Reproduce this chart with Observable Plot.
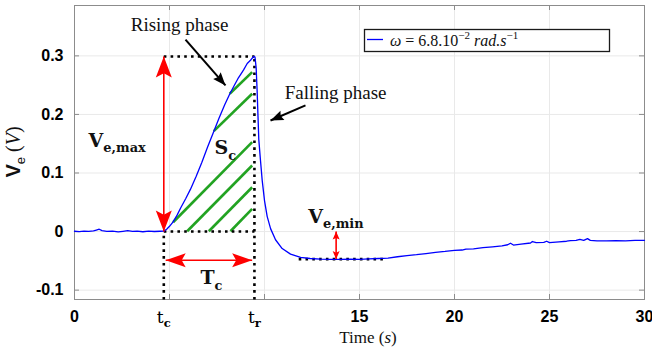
<!DOCTYPE html>
<html><head><meta charset="utf-8">
<script src="https://cdn.jsdelivr.net/npm/d3@7"></script>
<script src="https://cdn.jsdelivr.net/npm/@observablehq/plot@0.6"></script>
<style>body{margin:0;background:#fff;} #chart{width:652px;height:352px;}</style>
</head><body><div id="chart"></div>
<script>
// ---------- data ----------
const time = [0,0.25,0.5,0.75,1,1.15,1.3,1.45,1.7,2,2.3,2.55,2.8,3.05,3.3,3.6,3.9,4.2,4.5,4.7,
  4.85,5,5.19,5.4,5.6,5.85,6.1,6.4,6.7,7,7.33,7.6,7.9,8.17,8.4,8.6,8.74,8.9,9.09,9.25,9.35,9.44,9.5,
  9.56,9.61,9.66,9.7,9.79,9.88,10,10.14,10.32,10.58,10.93,11.37,11.9,12.4,12.95,13.5,14,14.5,15,
  15.5,16,16.5,17,17.5,18,18.5,19,19.5,20,20.4,20.6,21,21.5,22,22.5,22.8,22.95,23.1,23.5,24,24.1,24.3,
  24.7,24.85,25,25.5,25.9,26.1,26.4,26.6,26.8,27,27.15,27.5,28,28.5,29,29.5,30];
const voltage = [0.0005,0,0.0008,0.0002,0.001,0.0025,0.004,0.0015,0.0003,0.0008,-0.0005,0.0005,0.0015,0.0002,0.0008,-0.0003,0.0006,0.0001,0.0005,0.0008,
  0.004,0.009,0.0165,0.028,0.041,0.056,0.072,0.094,0.118,0.144,0.171,0.193,0.216,0.235,0.249,0.261,0.268,0.276,0.287,0.292,0.296,0.299,0.298,
  0.28,0.242,0.195,0.157,0.121,0.087,0.053,0.026,0.005,-0.014,-0.029,-0.0385,-0.044,-0.046,-0.047,-0.0475,-0.0475,-0.047,-0.0475,
  -0.0468,-0.046,-0.0455,-0.043,-0.041,-0.0395,-0.0375,-0.0355,-0.034,-0.032,-0.0315,-0.03,-0.0295,-0.0275,-0.026,-0.0245,-0.0225,-0.02,-0.023,-0.0215,-0.0195,-0.017,-0.019,
  -0.0185,-0.0165,-0.019,-0.0175,-0.0165,-0.0155,-0.015,-0.0135,-0.015,-0.012,-0.015,-0.016,-0.016,-0.0155,-0.0158,-0.0152,-0.015];

const tc = 4.7, tr = 9.47, vmax = 0.299, vmin = -0.047;
const tcArrowLevel = -0.049;       // level of the Tc double arrow
const vminArrowTime = 13.77;       // time of the Ve,min double arrow
const vminLine = [11.8, 16.3];     // extent of the dotted minimum line

const xTicks = [0, tc, tr, 15, 20, 25, 30];
const xTickLabels = ["0", "t_{c}", "t_{r}", "15", "20", "25", "30"];
const yTicks = [-0.1, 0, 0.1, 0.2, 0.3];
const yTickLabels = ["-0.1", "0", "0.1", "0.2", "0.3"];
const gridX = [5, 10, 15, 20, 25];
const gridY = [-0.1, 0, 0.1, 0.2, 0.3];

// green hatching of the area Sc
const hatchT1 = [8.21, 7.07, 5.93, 5.19, 7.33, 8.17];
const hatchV1 = [0.0005, 0.0005, 0.0005, 0.0159, 0.1715, 0.2354];
const hatchT2 = [9.35, 9.35, 9.35, 9.35, 9.35, 9.35];
const hatchV2 = [0.0388, 0.0757, 0.1128, 0.1526, 0.2354, 0.2723];

// annotation texts
const noteText = ["Rising phase", "Falling phase", "V_{e,max}", "S_{c}", "T_{c}", "V_{e,min}"];
const noteT = [5.53, 13.74, 0.74, 7.37, 6.63, 12.3];
const noteV = [0.3525, 0.2376, 0.1556, 0.142, -0.0795, 0.0256];
// black pointer arrows (start -> tip)
const pointerT1 = [5.842, 12.158], pointerV1 = [0.3277, 0.2154];
const pointerT2 = [7.947, 10.316], pointerV2 = [0.2496, 0.1897];

const legendLabel = ["ω", " = 6.8.10", "−2", " rad.s", "−1"];

// ---------- layout ----------
const W = 652, H = 352, ML = 74, MR = 8, MT = 5, MB = 53;
const xDomain = [0, 30], yDomain = [-0.116, 0.386];
const plotW = W - ML - MR, plotH = H - MT - MB;
const kx = plotW / (xDomain[1] - xDomain[0]);
const ky = plotH / (yDomain[1] - yDomain[0]);
const angle = (t1, v1, t2, v2) => Math.atan2((t2 - t1) * kx, (v2 - v1) * ky) * 180 / Math.PI;

function headShape(width, notch = 0.2) {
  return {draw(ctx, l) {
    const w = width / 2;
    ctx.moveTo(0, -l); ctx.lineTo(w, 0); ctx.lineTo(0, -l * notch); ctx.lineTo(-w, 0); ctx.closePath();
  }};
}

const curve = time.map((t, i) => ({t, v: voltage[i]}));
const hatch = hatchT1.map((t, i) => ({t1: t, v1: hatchV1[i], t2: hatchT2[i], v2: hatchV2[i]}));
const notes = noteText.map((s, i) => ({s, t: noteT[i], v: noteV[i]}));
const pointers = pointerT1.map((t, i) => ({t1: t, v1: pointerV1[i], t2: pointerT2[i], v2: pointerV2[i],
  r: angle(t, pointerV1[i], pointerT2[i], pointerV2[i])}));

const redShafts = [
  {t1: tc, v1: 0, t2: tc, v2: vmax},
  {t1: tc + 0.1, v1: tcArrowLevel, t2: tr - 0.12, v2: tcArrowLevel},
  {t1: vminArrowTime, v1: 0, t2: vminArrowTime, v2: vmin}
];
const bigHeads = [
  {t: tc, v: vmax, r: 0}, {t: tc, v: 0, r: 180}
];
const midHeads = [
  {t: tc + 0.1, v: tcArrowLevel, r: 270}, {t: tr - 0.12, v: tcArrowLevel, r: 90}
];
const smallHeads = [
  {t: vminArrowTime, v: 0, r: 0}, {t: vminArrowTime, v: vmin, r: 180}
];
const dotted = [
  {t1: tc, v1: vmax, t2: tr, v2: vmax},
  {t1: tc, v1: 0, t2: tr, v2: 0},
  {t1: tc, v1: yDomain[0], t2: tc, v2: 0},
  {t1: tr, v1: yDomain[0], t2: tr, v2: vmax},
  {t1: vminLine[0], v1: vmin, t2: vminLine[1], v2: vmin}
];

const xLabelMap = new Map(xTicks.map((d, i) => [d, xTickLabels[i]]));
const yLabelMap = new Map(yTicks.map((d, i) => [d, yTickLabels[i]]));

const serif = "Liberation Serif";
const boldSerif = "DejaVu Serif";

const plot = Plot.plot({
  width: W, height: H,
  marginLeft: ML, marginRight: MR, marginTop: MT, marginBottom: MB,
  style: {background: "white", overflow: "visible"},
  x: {domain: xDomain, axis: null},
  y: {domain: yDomain, axis: null},
  marks: [
    Plot.ruleX(gridX, {stroke: "#e9e9e9", strokeWidth: 1}),
    Plot.ruleY(gridY, {stroke: "#e9e9e9", strokeWidth: 1}),
    Plot.ruleX(gridX, {insetTop: plotH - 5, stroke: "#8c8c8c"}),
    Plot.ruleX(gridX, {insetBottom: plotH - 5, stroke: "#8c8c8c"}),
    Plot.ruleY(gridY, {insetRight: plotW - 5, stroke: "#8c8c8c"}),
    Plot.ruleY(gridY, {insetLeft: plotW - 5, stroke: "#8c8c8c"}),
    Plot.frame({stroke: "#8c8c8c", strokeWidth: 1}),
    Plot.axisX(xTicks, {tickFormat: d => xLabelMap.get(d), tickSize: 0, tickPadding: 11,
      fontSize: 16, fontWeight: "bold", fontFamily: "Liberation Sans", label: null}),
    Plot.axisY(yTicks, {tickFormat: d => yLabelMap.get(d), tickSize: 0, tickPadding: 11,
      fontSize: 16, fontWeight: "bold", fontFamily: "Liberation Sans", label: null}),
    Plot.link(hatch, {x1: "t1", y1: "v1", x2: "t2", y2: "v2", stroke: "#22a322", strokeWidth: 2.6}),
    Plot.link(dotted, {x1: "t1", y1: "v1", x2: "t2", y2: "v2", stroke: "black", strokeWidth: 2.6,
      strokeDasharray: "2.6,4.2", strokeLinecap: "butt"}),
    Plot.line(curve, {x: "t", y: "v", stroke: "#0000ff", strokeWidth: 1.3}),
    Plot.link(redShafts, {x1: "t1", y1: "v1", x2: "t2", y2: "v2", stroke: "red", strokeWidth: 1.6}),
    Plot.vector(bigHeads, {x: "t", y: "v", rotate: "r", length: 21, anchor: "end", shape: headShape(16), fill: "red", stroke: "none"}),
    Plot.vector(midHeads, {x: "t", y: "v", rotate: "r", length: 20, anchor: "end", shape: headShape(14), fill: "red", stroke: "none"}),
    Plot.vector(smallHeads, {x: "t", y: "v", rotate: "r", length: 8, anchor: "end", shape: headShape(7), fill: "red", stroke: "none"}),
    Plot.link(pointers, {x1: "t1", y1: "v1", x2: "t2", y2: "v2", stroke: "black", strokeWidth: 2}),
    Plot.vector(pointers, {x: "t2", y: "v2", rotate: "r", length: 13, anchor: "end", shape: headShape(10, 0.15), fill: "black", stroke: "none"}),
    Plot.text(notes.slice(0, 2), {x: "t", y: "v", text: "s", fontFamily: serif, fontSize: 19, fill: "#111", textAnchor: "middle"}),
    Plot.text(notes.slice(2), {x: "t", y: "v", text: "s", fontFamily: boldSerif, fontSize: 19, fontWeight: "bold", fill: "#111", textAnchor: "start"})
  ]
});
document.getElementById("chart").appendChild(plot);

// rich text (subscripts) for labels
const NS = "http://www.w3.org/2000/svg";
function richify(el, opts = {}) {
  const s = el.textContent;
  if (!/[_^]\{/.test(s)) return;
  const fs = opts.fontSize || parseFloat(getComputedStyle(el).fontSize) || 16;
  while (el.firstChild) el.removeChild(el.firstChild);
  const re = /([_^])\{([^}]*)\}/g;
  let last = 0, m, cur = 0;
  function add(txt, shift, small) {
    if (!txt) return;
    const t = document.createElementNS(NS, "tspan");
    t.textContent = txt;
    const d = shift - cur;
    if (d) t.setAttribute("dy", d);
    cur = shift;
    if (small) {
      t.setAttribute("font-size", fs * 0.68);
      if (opts.subWeight) t.setAttribute("font-weight", opts.subWeight);
    }
    el.appendChild(t);
  }
  while ((m = re.exec(s))) {
    add(s.slice(last, m.index), 0, false);
    add(m[2], m[1] === "_" ? fs * 0.28 : -fs * 0.4, true);
    last = re.lastIndex;
  }
  add(s.slice(last), 0, false);
}
plot.querySelectorAll("text").forEach(el => {
  const s = el.textContent;
  if (/^t_\{/.test(s)) {
    el.setAttribute("font-family", boldSerif);
    el.setAttribute("font-weight", "normal");
    el.setAttribute("font-size", 17);
    richify(el, {fontSize: 17, subWeight: "bold"});
  } else {
    richify(el);
  }
});

// axis titles and legend
const svg = d3.select(plot);
const yl = svg.append("text").attr("transform", "translate(20,152) rotate(-90)")
  .attr("text-anchor", "middle").attr("fill", "#111").attr("font-size", 20);
yl.append("tspan").attr("font-family", "Liberation Sans").attr("font-weight", "bold").text("V");
yl.append("tspan").attr("font-family", "Liberation Sans").attr("font-size", 13).attr("dy", 5).text("e");
yl.append("tspan").attr("font-family", serif).attr("dy", -5).text(" (");
yl.append("tspan").attr("font-family", serif).attr("font-style", "italic").text("V");
yl.append("tspan").attr("font-family", serif).text(")");

const xl = svg.append("text").attr("x", 368).attr("y", 343)
  .attr("text-anchor", "middle").attr("fill", "#111").attr("font-size", 17).attr("font-family", serif);
xl.append("tspan").text("Time (");
xl.append("tspan").attr("font-style", "italic").text("s");
xl.append("tspan").text(")");

const lg = svg.append("g");
lg.append("rect").attr("x", 364.5).attr("y", 29.5).attr("width", 245).attr("height", 22)
  .attr("fill", "white").attr("stroke", "#1a1a1a").attr("stroke-width", 1.3);
lg.append("line").attr("x1", 367).attr("x2", 383).attr("y1", 39.5).attr("y2", 39.5)
  .attr("stroke", "#0000ff").attr("stroke-width", 1.3);
const lt = lg.append("text").attr("x", 390).attr("y", 45.5).attr("text-anchor", "start")
  .attr("font-family", serif).attr("font-size", 16).attr("fill", "#111");
lt.append("tspan").attr("font-style", "italic").text(legendLabel[0]);
lt.append("tspan").text(legendLabel[1]);
lt.append("tspan").attr("font-size", 11).attr("dy", -6.5).text(legendLabel[2]);
lt.append("tspan").attr("dy", 6.5).attr("font-style", "italic").text(legendLabel[3]);
lt.append("tspan").attr("font-size", 11).attr("dy", -6.5).text(legendLabel[4]);
</script>
</body></html>
